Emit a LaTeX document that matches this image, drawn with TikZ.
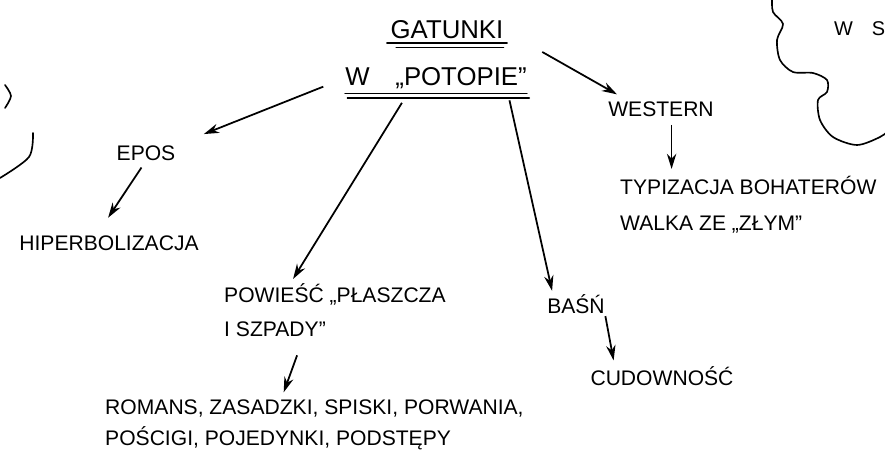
\documentclass[tikz,border=0pt]{standalone}
\usepackage{fontspec}
\setmainfont{Liberation Sans}
\usetikzlibrary{arrows.meta,calc}

\tikzset{
  txt/.style={font=\fontsize{18}{29}\selectfont, inner sep=0pt},
  ttl/.style={font=\fontsize{22}{26}\selectfont, inner sep=0pt},
  arr/.style={-{Stealth[length=13pt,width=8pt]}, line width=1.5pt},
  pen/.style={line width=1.4pt, line cap=round},
}

\begin{document}
\begin{tikzpicture}[x=0.03cm,y=-0.03cm]
    \clip (0,0) rectangle (885,472);

    \node[ttl] (gat) at (447,30) {GATUNKI};
    \node[ttl] (pot) at (436,78) {W\quad „POTOPIE”};
    \node[txt] (epos) at (146,153) {EPOS};
    \node[txt] (hip) at (109,243) {HIPERBOLIZACJA};
    \node[txt] (west) at (661,109) {WESTERN};
    \node[txt, anchor=north west, align=left] (typ) at (620,176) {TYPIZACJA BOHATERÓW\\[2pt]WALKA ZE „ZŁYM”};
    \node[txt, anchor=north west, align=left] (pow) at (224,283) {POWIEŚĆ „PŁASZCZA\\I SZPADY”};
    \node[txt, font=\fontsize{18}{26}\selectfont, anchor=north west, align=left] (rom) at (105,400) {ROMANS, ZASADZKI, SPISKI, PORWANIA,\\POŚCIGI, POJEDYNKI, PODSTĘPY};
    \node[txt] (basn) at (576,304) {BAŚŃ};
    \node[txt] (cud) at (662,376) {CUDOWNOŚĆ};
    \node[txt, font=\fontsize{17}{20}\selectfont, anchor=west] (ws) at (834,29) {W\hspace{16pt}S};

    \draw[pen] ([xshift=-3pt,yshift=-3pt]gat.south west) -- ([xshift=3pt,yshift=-3pt]gat.south east);
    \draw[pen] ([xshift=5pt,yshift=-7pt]gat.south west) -- ([yshift=-7pt]gat.south east);
    \draw[pen] ([yshift=-4pt]pot.south west) -- ([yshift=-4pt]pot.south east);
    \draw[pen] ([xshift=2pt,yshift=-8pt]pot.south west) -- ([xshift=2pt,yshift=-8pt]pot.south east);

    \draw[arr, shorten <=20pt, shorten >=26pt] (pot.west) -- (epos.north east);
    \draw[arr, shorten <=38pt, shorten >=12pt] (gat.east) -- ($(west.north west)!0.2!(west.north east)$);
    \draw[arr, shorten <=14pt, shorten >=4pt] ($(pot.south west)!0.36!(pot.south east)$) -- ($(pow.north west)!0.3!(pow.north east)$);
    \draw[arr, shorten <=10pt, shorten >=3pt] ($(pot.south west)!0.89!(pot.south east)$) -- ($(basn.north west)!0.1!(basn.north east)$);
    \draw[arr, shorten <=7pt, shorten >=18pt] (epos.south) -- ($(hip.north west)!0.86!(hip.north)$);
    \coordinate (wfoot) at ($(west.south west)!0.6!(west.south east)$);
    \draw[arr, shorten <=7pt, shorten >=6pt] (wfoot) -- (wfoot |- typ.north);
    \draw[arr, shorten <=17pt, shorten >=7pt] ($(pow.south west)!0.36!(pow.south east)$) -- ($(rom.north west)!0.42!(rom.north east)$);
    \draw[arr, shorten <=2pt, shorten >=5pt] (basn.south east) -- ($(cud.north west)!0.17!(cud.north east)$);

    \draw[pen] plot[smooth] coordinates {(772,-2) (773,12) (783,24) (777,40) (780,60) (793,72) (813,73) (827,80) (827,92) (818,100) (820,120) (833,137) (857,145) (880,137) (892,128)};
    \draw[pen] plot[smooth] coordinates {(5,85) (11,96) (5,108)};
    \draw[pen] plot[smooth] coordinates {(33,133) (29,157) (0,178)};
\end{tikzpicture}
\end{document}
